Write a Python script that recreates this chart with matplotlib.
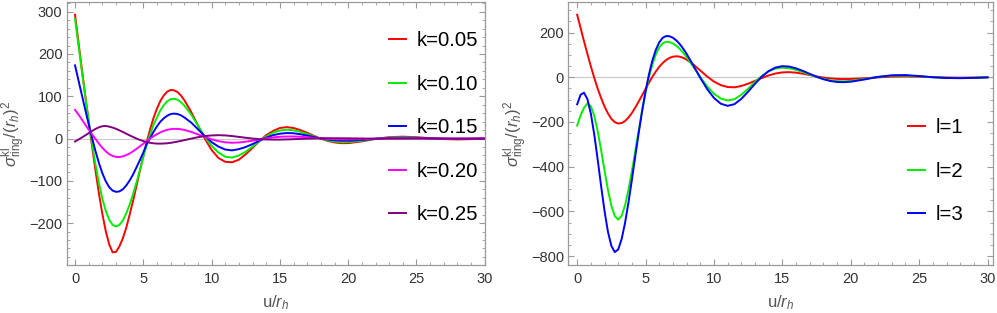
import numpy as np
import matplotlib
matplotlib.use('Agg')
import matplotlib.pyplot as plt
from matplotlib.ticker import MultipleLocator

plt.rcParams['font.family'] = ['Liberation Sans', 'DejaVu Sans']
plt.rcParams['mathtext.fontset'] = 'custom'
plt.rcParams['mathtext.rm'] = 'Liberation Sans'
plt.rcParams['mathtext.it'] = 'Liberation Sans:italic'

# shared u/r_h sample points
u = [0, 0.25, 0.5, 0.75, 1, 1.25, 1.5, 1.75, 2, 2.25, 2.5, 2.75, 3, 3.25, 3.5, 3.75, 4, 4.25, 4.5, 4.75,
     5, 5.25, 5.5, 5.75, 6, 6.25, 6.5, 6.75, 7, 7.25, 7.5, 7.75, 8,
     8.5, 9, 9.5, 10, 10.5, 11, 11.5, 12, 12.5, 13, 13.5, 14, 14.5, 15, 15.5, 16, 16.5, 17, 17.5, 18, 18.5, 19, 19.5, 20,
     21, 22, 23, 24, 25, 26, 27, 28, 29, 30]

# left panel: different k
k005 = [293, 228, 164, 101, 40, -19, -76, -130, -178, -219, -250, -269, -268, -255, -236, -211, -180, -147, -112, -76,
        -41, -8, 22, 49, 71, 89, 102, 111, 115, 114, 110, 102, 91,
        63, 31, 0, -27, -46, -55, -56, -50, -37, -22, -6, 8, 18, 25, 27, 25, 20, 13.5, 6.3, -0.3, -5.7, -9.2, -10.9, -10.8,
        -6.7, -0.9, 3.3, 4.5, 3.2, 0.8, -1.2, -2.0, -1.4, -0.2]
k010 = [283, 222, 160, 100, 42, -12, -62, -105, -142, -171, -192, -204, -208, -204, -194, -177, -156, -131, -104, -75,
        -43, -15, 10, 33, 50, 67, 79, 88, 93, 94, 92, 86, 78,
        57, 31, 4, -17, -33, -43, -45, -40, -31, -19, -6, 5, 14, 19, 21, 19.5, 15.7, 10.5, 4.9, -0.2, -4.4, -7.2, -8.5, -8.4,
        -5.2, -0.7, 2.6, 3.5, 2.5, 0.6, -0.9, -1.5, -1.1, -0.2]
k015 = [173, 138, 103, 68, 34, 1, -30, -58, -82, -101, -115, -123, -126, -125, -120, -111, -99, -85, -68, -51,
        -33, -13, 1, 16, 29, 40, 48, 54, 58, 59, 58, 55, 50,
        38, 22, 6, -8.5, -19, -26, -28, -25, -20, -13, -5, 2, 8, 11.5, 13, 12.5, 10.2, 7.0, 3.5, 0.3, -2.3, -4.1, -5.0, -5.1,
        -3.4, -0.7, 1.4, 2.1, 1.6, 0.5, -0.5, -0.9, -0.7, -0.1]
k020 = [68, 57, 45, 33, 21, 10, -1, -12, -22, -30, -37, -41, -43.5, -43.7, -42.1, -39.1, -35.1, -30.1, -24.4, -18.4,
        -12.1, -6.0, 0, 5.5, 10.4, 14.6, 18, 20.6, 22.2, 22.9, 22.9, 22.0, 20.4,
        15.8, 9.9, 3.7, -1.8, -6.1, -8.9, -9.9, -9.3, -7.5, -5.0, -2.2, 0.5, 2.7, 4.2, 4.9, 4.9, 4.2, 3.0, 1.6, 0.2, -0.9, -1.6, -2.0, -2.0,
        -1.4, -0.4, 0.5, 0.8, 0.6, 0.2, -0.2, -0.4, -0.3, 0]
k025 = [-7, -2.3, 2.5, 7.5, 12.8, 18, 22.8, 26.6, 29.2, 29.8, 28.2, 26.0, 23.0, 19.4, 15.6, 11.5, 7.5, 3.6, 0, -3.2,
        -6.0, -8.3, -10, -11.2, -11.9, -12.0, -11.7, -11.1, -10.1, -8.8, -7.3, -5.6, -3.8,
        -0.2, 3.2, 5.8, 7.4, 8, 7.4, 5.9, 3.9, 1.9, 0, -1.3, -2.2, -2.5, -2.4, -2.0, -1.5, -0.9, -0.3, 0.2, 0.6, 0.8, 0.8, 0.7, 0.5,
        0.1, -0.2, -0.3, -0.2, 0, 0.1, 0.1, 0.1, 0, 0]

# right panel: different l
l1 = [280, 220, 161, 104, 49, -3, -51, -93, -131, -162, -186, -201, -207, -205, -196, -180, -160, -135, -108, -80,
      -52, -24, 2.3, 26, 46.7, 63.8, 77.2, 86.7, 92.2, 94, 92.2, 87.1, 79.1,
      56.8, 30.2, 3.6, -19.1, -35.2, -43.6, -44.9, -38.9, -28.7, -16.1, -3.1, 8.4, 16.9, 21.9, 23, 20.6, 15.9, 10.0, 4.0, -1.2, -5.0, -7.3, -8, -7.6,
      -4.5, -0.5, 2.8, 3.8, 2.6, 0.5, -1.2, -1.7, -1.2, -0.2]
l2 = [-216, -170, -136, -118, -129.5, -172.4, -240.9, -325.8, -417.3, -503.8, -574.7, -621.2, -637, -619.7, -572.5, -503.5, -420.1, -329.3, -237.3, -148.9,
      -68.4, 1.4, 58.7, 102.8, 133.4, 152, 158.8, 157.4, 151.4, 141, 127, 109.8, 90.1,
      46.1, 0.8, -40.7, -73.5, -95.3, -103.8, -98.1, -78.5, -50.9, -21.1, 5.9, 26.6, 39.1, 43, 40.3, 33.1, 23.1, 12.1, 1.5, -7.3, -13.6, -17.2, -18, -16.2,
      -8.0, 1.4, 7.1, 7.8, 4.4, 0.3, -2.6, -3.2, -2.2, -0.4]
l3 = [-121, -78, -69.1, -98, -162.8, -256.7, -368.6, -487.1, -598.6, -691.8, -754.5, -782.3, -770.5, -724.1, -651.4, -560.2, -458.3, -352.3, -248.2, -149.9,
      -61.9, 13.7, 75.6, 123, 156.1, 176.7, 184.5, 183.6, 176.8, 164.9, 148.4, 128.2, 104.8,
      52.0, -2.5, -52.6, -92.5, -118.3, -127.9, -120.2, -96.7, -64.1, -29.0, 2.9, 27.9, 43.6, 49.8, 47.8, 40.0, 28.5, 15.3, 2.4, -8.6, -16.5, -21.0, -21.9, -19.8,
      -9.8, 1.8, 8.9, 9.8, 5.5, 0.3, -3.2, -4.0, -2.8, -0.5]

left_series = [k005, k010, k015, k020, k025]
left_labels = ['k=0.05', 'k=0.10', 'k=0.15', 'k=0.20', 'k=0.25']
left_colors = ['#ff0000', '#00ee00', '#0000ff', '#ff00ff', '#800080']
right_series = [l1, l2, l3]
right_labels = ['l=1', 'l=2', 'l=3']
right_colors = ['#ff0000', '#00ee00', '#0000ff']

fig = plt.figure(figsize=(9.97, 3.13), dpi=100)
ax1 = fig.add_axes([0.0669, 0.1534, 0.4196, 0.8403])
ax2 = fig.add_axes([0.5700, 0.1534, 0.4260, 0.8403])

ylabel = r'$\sigma^{\mathrm{kl}}_{\mathrm{ring}}/(r_h)^2$'


def style(ax, ymaj, ymin):
    ax.axhline(0, color='#c8c8c8', lw=0.8, zorder=0)
    for s in ax.spines.values():
        s.set_color('#9a9a9a')
        s.set_linewidth(0.9)
    ax.xaxis.set_major_locator(MultipleLocator(5))
    ax.xaxis.set_minor_locator(MultipleLocator(1))
    ax.yaxis.set_major_locator(MultipleLocator(ymaj))
    ax.yaxis.set_minor_locator(MultipleLocator(ymin))
    ax.tick_params(which='both', direction='in', top=True, right=True, color='#9a9a9a',
                   labelsize=10.5, labelcolor='#333333')
    ax.tick_params(which='major', length=4, width=0.8)
    ax.tick_params(which='minor', length=2, width=0.6)
    ax.tick_params(axis='x', pad=5)
    ax.tick_params(axis='y', pad=3)
    ax.set_xlabel(r'u/$r_h$', fontsize=12, color='#555555', labelpad=5)
    ax.set_ylabel(ylabel, fontsize=12, color='#555555', labelpad=1)


for ys, lab, c in zip(left_series, left_labels, left_colors):
    ax1.plot(u, ys, color=c, lw=1.4, label=lab)
ax1.set_xlim(-0.61, 30.02)
ax1.set_ylim(-299, 323)
style(ax1, 100, 20)
ax1.legend(loc='center left', bbox_to_anchor=(0.771, 0.521), frameon=False, fontsize=14.7,
           handlelength=0.82, handletextpad=0.52, labelspacing=1.2, borderpad=0, borderaxespad=0)

for ys, lab, c in zip(right_series, right_labels, right_colors):
    ax2.plot(u, ys, color=c, lw=1.4, label=lab)
ax2.set_xlim(-0.65, 30.4)
ax2.set_ylim(-840, 337)
style(ax2, 200, 50)
ax2.legend(loc='center left', bbox_to_anchor=(0.80, 0.3567), frameon=False, fontsize=14.7,
           handlelength=0.82, handletextpad=0.52, labelspacing=1.2, borderpad=0, borderaxespad=0)

fig.savefig('out.png', dpi=100)
